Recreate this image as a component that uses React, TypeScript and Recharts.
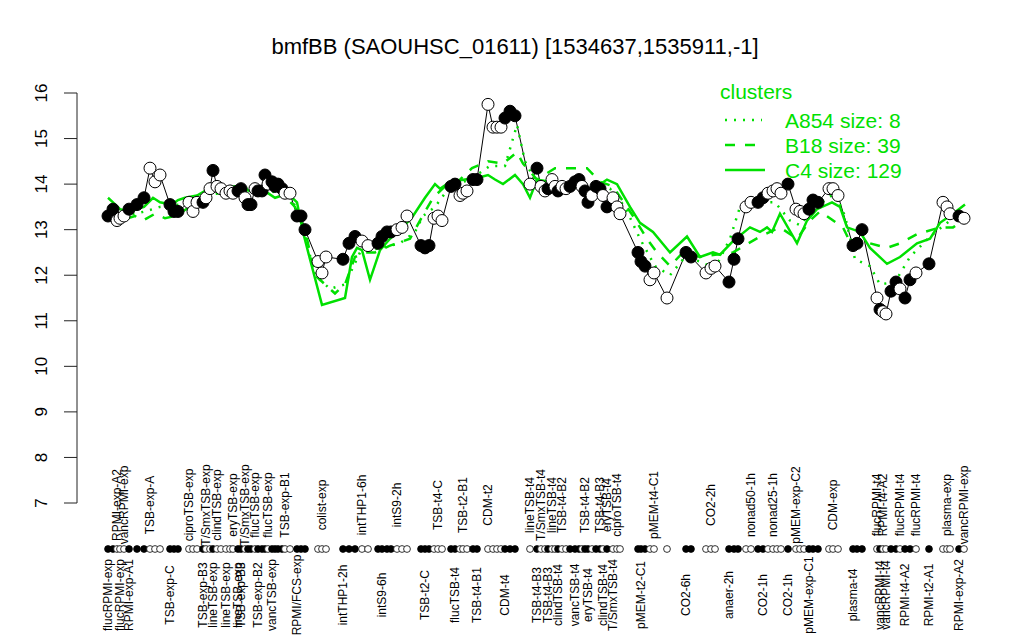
import { ComposedChart, Line, XAxis, YAxis } from "recharts";

const FONT = '"Liberation Sans", Arial, Helvetica, sans-serif';
const GREEN = "#00e000";

// condition position along the x axis (gaps separate experiment groups)
const conditionPos = [
  8, 13, 17, 20, 24, 29, 37, 44, 50, 55,
  60, 70, 74, 78, 89, 93, 97, 103, 106, 110,
  113, 117, 121, 126, 130, 133, 138, 141, 145, 148,
  151, 155, 158, 162, 165, 168, 172, 175, 178, 182,
  185, 190, 197, 201, 205, 218, 222, 226, 243, 249,
  255, 262, 268, 278, 282, 287, 291, 297, 302, 307,
  321, 325, 329, 334, 338, 342, 351, 355, 360, 363,
  367, 373, 377, 388, 393, 397, 401, 405, 410, 415,
  430, 437, 441, 445, 448, 452, 455, 458, 462, 466,
  470, 475, 479, 482, 485, 488, 492, 496, 500, 503,
  507, 513, 517, 520, 538, 541, 545, 550, 554, 567,
  586, 591, 606, 611, 615, 629, 634, 638, 646, 651,
  658, 663, 668, 673, 677, 681, 688, 696, 700, 704,
  709, 713, 718, 729, 733, 738, 753, 757, 762, 777,
  780, 783, 786, 791, 796, 800, 805, 810, 816, 829,
  843, 847, 850, 859, 864,
];

// log2 expression per condition
const expression = [
  13.3, 13.45, 13.2, 13.25, 13.3, 13.45, 13.55, 13.7, 14.35, 14.05,
  14.2, 13.55, 13.4, 13.4, 13.6, 13.4, 13.6, 13.6, 13.7, 13.9,
  14.3, 13.95, 13.9, 13.8, 13.85, 13.8, 13.85, 13.9, 13.7, 13.55,
  13.55, 13.9, 13.85, 13.85, 14.2, 14.0, 14.05, 13.95, 14.0, 13.9,
  13.8, 13.8, 13.3, 13.3, 13.0, 12.3, 12.05, 12.4, 12.35, 12.7,
  12.85, 12.75, 12.65, 12.7, 12.85, 12.95, 12.95, 13.0, 13.05, 13.3,
  12.65, 12.6, 12.65, 13.25, 13.3, 13.2, 13.95, 14.0, 13.75, 13.8,
  13.85, 14.1, 14.1, 15.75, 15.25, 15.25, 15.25, 15.45, 15.6, 15.5,
  14.0, 14.35, 13.95, 13.85, 13.9, 14.1, 13.95, 13.85, 13.95, 13.9,
  13.95, 14.05, 14.1, 13.95, 13.85, 13.6, 13.75, 13.95, 13.9, 13.75,
  13.5, 13.7, 13.5, 13.35, 12.5, 12.3, 12.2, 11.9, 12.05, 11.5,
  12.5, 12.4, 12.05, 12.15, 12.2, 11.85, 12.35, 12.8, 13.5, 13.6,
  13.6, 13.7, 13.8, 13.85, 13.9, 13.8, 14.0, 13.45, 13.4, 13.35,
  13.45, 13.65, 13.6, 13.9, 13.9, 13.75, 12.65, 12.7, 13.0, 11.5,
  11.25, 11.2, 11.15, 11.65, 11.85, 11.7, 11.5, 11.9, 12.05, 12.25,
  13.6, 13.5, 13.35, 13.3, 13.25,
];

// 1 = filled marker, 0 = open marker
const filled = [
  1, 1, 0, 0, 0, 1, 1, 1, 0, 0,
  0, 1, 1, 1, 0, 0, 0, 1, 0, 0,
  1, 0, 0, 0, 0, 0, 1, 1, 0, 1,
  1, 0, 1, 1, 1, 0, 1, 1, 1, 1,
  0, 0, 1, 1, 1, 0, 0, 0, 1, 1,
  1, 0, 0, 1, 1, 1, 1, 0, 0, 0,
  1, 1, 1, 0, 0, 0, 1, 1, 0, 0,
  0, 1, 1, 0, 0, 0, 0, 1, 1, 1,
  0, 1, 0, 0, 1, 0, 0, 1, 0, 0,
  1, 1, 1, 0, 1, 1, 0, 1, 1, 0,
  1, 0, 0, 0, 1, 1, 1, 0, 0, 0,
  1, 1, 0, 0, 0, 1, 1, 1, 0, 0,
  1, 1, 0, 0, 0, 0, 1, 0, 0, 0,
  1, 1, 1, 0, 0, 0, 1, 1, 1, 0,
  1, 0, 0, 1, 1, 0, 1, 1, 0, 1,
  0, 0, 0, 1, 0,
];

const topLabels: [number, string][] = [
  [17, "RPMI-exp-A2"], [24, "vancRPMI-exp"], [50, "TSB-exp-A"], [89, "ciproTSB-exp"],
  [106, "T/SmxTSB-exp"], [117, "clindTSB-exp"], [133, "eryTSB-exp"], [145, "T/SmxTSB-exp"],
  [155, "flucTSB-exp"], [168, "flucTSB-exp"], [185, "TSB-exp-B1"], [222, "colist-exp"],
  [262, "intTHP1-6h"], [297, "intS9-2h"], [338, "TSB-t4-C"], [363, "TSB-t2-B1"],
  [388, "CDM-t2"], [430, "lineTSB-t4"], [441, "T/SmxTSB-t4"], [452, "lineTSB-t4"],
  [462, "TSB-t4-B2"], [485, "TSB-t4-B2"], [500, "TSB-t4-B3"], [507, "eryTSB-t4"],
  [517, "ciproTSB-t4"], [554, "pMEM-t4-C1"], [611, "CO2-2h"], [651, "nonad50-1h"],
  [673, "nonad25-1h"], [696, "pMEM-exp-C2"], [733, "CDM-exp"], [777, "flucRPMI-t4"],
  [783, "RPMI-t4-A2"], [800, "flucRPMI-t4"], [816, "flucRPMI-t4"], [847, "plasma-exp"],
  [864, "vancRPMI-exp"],
];

const bottomLabels: [number, string][] = [
  [8, "flucRPMI-exp"], [20, "flucRPMI-exp"], [29, "RPMI-exp-A1"], [70, "TSB-exp-C"],
  [103, "TSB-exp-B3"], [113, "lineTSB-exp"], [126, "lineTSB-exp"], [138, "lineTSB-exp"],
  [141, "TSB-exp-B3"], [158, "TSB-exp-B2"], [172, "vancTSB-exp"], [197, "RPMI/FCS-exp"],
  [243, "intTHP1-2h"], [282, "intS9-6h"], [325, "TSB-t2-C"], [355, "flucTSB-t4"],
  [377, "TSB-t4-B1"], [405, "CDM-t4"], [437, "TSB-t4-B3"], [448, "TSB-t4-B3"],
  [458, "clindTSB-t4"], [475, "vancTSB-t4"], [488, "eryTSB-t4"], [503, "clindTSB-t4"],
  [513, "T/SmxTSB-t4"], [541, "pMEM-t2-C1"], [586, "CO2-6h"], [629, "anaer-2h"],
  [663, "CO2-1h"], [688, "CO2-1h"], [709, "pMEM-exp-C1"], [753, "plasma-t4"],
  [780, "vancRPMI-t4"], [786, "vancRPMI-t4"], [805, "RPMI-t4-A2"], [829, "RPMI-t2-A1"],
  [859, "RPMI-exp-A2"],
];

// cluster mean profiles
const a854Pos = [8, 25, 45, 60, 80, 100, 130, 160, 190, 200, 215, 230, 245, 260, 280, 300, 315, 323, 335, 350, 370, 390, 405, 417, 425, 437, 460, 490, 510, 525, 540, 555, 570, 585, 600, 615, 630, 640, 660, 675, 690, 700, 715, 735, 745, 755, 770, 780, 795, 810, 830, 850, 863];
const a854Val = [13.5, 13.3, 13.4, 13.5, 13.55, 13.75, 13.9, 13.9, 13.75, 13.3, 12.0, 11.7, 11.8, 12.5, 12.6, 12.7, 12.95, 13.3, 13.5, 13.95, 14.1, 14.4, 14.4, 15.3, 14.5, 14.0, 13.9, 13.95, 13.9, 13.5, 12.8, 12.2, 12.0, 12.4, 12.3, 12.15, 12.8, 13.5, 13.6, 13.6, 13.2, 13.1, 13.5, 13.8, 13.3, 12.35, 12.2, 11.8, 11.85, 12.4, 12.85, 13.2, 13.3];

const b18Pos = [8, 20, 35, 43, 55, 65, 75, 90, 105, 120, 140, 160, 180, 195, 205, 215, 235, 245, 255, 265, 275, 290, 310, 320, 333, 345, 360, 372, 388, 403, 417, 423, 437, 455, 470, 487, 500, 513, 533, 547, 557, 570, 583, 600, 615, 633, 660, 680, 697, 710, 720, 743, 753, 770, 787, 800, 817, 840, 853, 863];
const b18Val = [13.3, 13.2, 13.3, 13.2, 13.35, 13.25, 13.3, 13.5, 13.75, 13.8, 13.85, 13.9, 13.85, 13.5, 13.0, 12.0, 11.6, 11.8, 12.4, 12.5, 12.5, 12.65, 12.8, 13.2, 13.7, 13.95, 14.1, 14.35, 14.5, 14.45, 14.7, 14.45, 14.1, 14.35, 14.35, 14.35, 14.05, 13.95, 13.3, 12.8, 12.5, 12.2, 12.5, 12.4, 12.45, 12.5, 12.85, 13.05, 12.8, 13.2, 13.4, 13.05, 12.6, 12.7, 12.6, 12.7, 12.9, 13.05, 13.05, 13.2];

const c4Pos = [8, 13, 20, 30, 37, 44, 53, 60, 72, 78, 85, 97, 105, 112, 117, 122, 135, 150, 162, 168, 175, 182, 190, 197, 203, 210, 222, 245, 252, 257, 262, 270, 280, 290, 303, 313, 325, 335, 340, 350, 365, 380, 388, 395, 403, 415, 423, 430, 437, 450, 467, 480, 487, 497, 507, 517, 530, 540, 553, 570, 587, 600, 613, 620, 633, 650, 660, 667, 672, 680, 697, 707, 717, 732, 740, 747, 760, 770, 787, 800, 817, 830, 840, 853, 865];
const c4Val = [13.7, 13.6, 13.45, 13.4, 13.45, 13.5, 13.7, 13.6, 13.55, 13.65, 13.7, 13.75, 13.85, 13.9, 14.05, 13.9, 13.95, 13.85, 13.85, 13.8, 13.7, 13.75, 13.75, 13.6, 12.95, 12.35, 11.35, 11.5, 12.4, 12.6, 12.55, 11.9, 12.55, 12.8, 13.05, 13.3, 13.7, 14.0, 13.9, 14.05, 14.1, 14.15, 14.2, 14.1, 14.0, 14.2, 14.0, 13.7, 14.1, 14.05, 13.95, 14.0, 13.85, 13.95, 14.1, 14.0, 13.5, 13.15, 12.95, 12.5, 12.85, 12.4, 12.5, 12.45, 12.75, 13.05, 12.95, 13.05, 12.95, 13.35, 12.7, 13.2, 13.45, 13.6, 13.5, 13.05, 12.95, 12.6, 12.25, 12.4, 12.7, 12.8, 13.15, 13.35, 13.55];

const yTicks = [7, 8, 9, 10, 11, 12, 13, 14, 15, 16];

const rows = conditionPos.map((pos, i) => ({ pos, value: expression[i], filled: filled[i] === 1 }));
const a854Rows = a854Pos.map((pos, i) => ({ pos, v: a854Val[i] }));
const b18Rows = b18Pos.map((pos, i) => ({ pos, v: b18Val[i] }));
const c4Rows = c4Pos.map((pos, i) => ({ pos, v: c4Val[i] }));

const topMap = new Map(topLabels);
const bottomMap = new Map(bottomLabels);
const filledMap = new Map(rows.map((r) => [r.pos, r.filled]));

function ConditionTick(props: any) {
  const { x, payload } = props;
  const top = topMap.get(payload.value);
  const bottom = bottomMap.get(payload.value);
  const isFilled = filledMap.get(payload.value);
  return (
    <g>
      <circle cx={x} cy={549} r={3.4} fill={isFilled ? "#000" : "#fff"} stroke="#000" strokeWidth={0.8} />
      {top && (
        <text transform={`translate(${x}, 505) rotate(-90)`} textAnchor="middle" dominantBaseline="central" fontSize={12} fontFamily={FONT} fill="#000">
          {top}
        </text>
      )}
      {bottom && (
        <text transform={`translate(${x}, 595) rotate(-90)`} textAnchor="middle" dominantBaseline="central" fontSize={12} fontFamily={FONT} fill="#000">
          {bottom}
        </text>
      )}
    </g>
  );
}

function ValueTick(props: any) {
  const { y, payload } = props;
  return (
    <text transform={`translate(41, ${y}) rotate(-90)`} textAnchor="middle" dominantBaseline="central" fontSize={17} fontFamily={FONT} fill="#000">
      {payload.value}
    </text>
  );
}

function renderMarker(p: any) {
  return (
    <circle
      key={`m${p.index}`}
      cx={p.cx}
      cy={p.cy}
      r={6}
      fill={p.payload.filled ? "#000" : "#fff"}
      stroke="#000"
      strokeWidth={1}
    />
  );
}

export default function App() {
  return (
    <div style={{ position: "absolute", left: 0, top: 0, width: 1024, height: 640, background: "#fff", fontFamily: FONT }}>
      <div style={{ position: "absolute", left: 0, top: 32, width: 1030, textAlign: "center", fontSize: 22, lineHeight: "30px" }}>
        bmfBB (SAOUHSC_01611) [1534637,1535911,-1]
      </div>
      <ComposedChart width={1024} height={640} data={rows} margin={{ top: 93, right: 24, bottom: 0, left: 0 }}>
        <XAxis
          dataKey="pos"
          type="number"
          domain={[-23, 900]}
          ticks={conditionPos}
          interval={0}
          axisLine={false}
          tickLine={false}
          height={137}
          tick={<ConditionTick />}
        />
        <YAxis
          type="number"
          domain={[7, 16]}
          ticks={yTicks}
          width={77}
          stroke="#222"
          tickSize={13}
          tick={<ValueTick />}
        />
        <Line dataKey="value" stroke="#000" strokeWidth={1} dot={renderMarker} isAnimationActive={false} />
        <Line data={a854Rows} dataKey="v" stroke={GREEN} strokeWidth={2.5} strokeDasharray="2 7" dot={false} isAnimationActive={false} />
        <Line data={b18Rows} dataKey="v" stroke={GREEN} strokeWidth={2.5} strokeDasharray="10 10" dot={false} isAnimationActive={false} />
        <Line data={c4Rows} dataKey="v" stroke={GREEN} strokeWidth={2.5} dot={false} isAnimationActive={false} />
      </ComposedChart>
      <svg style={{ position: "absolute", left: 700, top: 70 }} width={300} height={120}>
        <text x={20} y={29} fontSize={21} fill={GREEN} fontFamily={FONT}>clusters</text>
        <line x1={25} y1={50} x2={62} y2={50} stroke={GREEN} strokeWidth={2.5} strokeDasharray="2 7" />
        <text x={85} y={57.5} fontSize={21} fill={GREEN} fontFamily={FONT}>A854 size: 8</text>
        <line x1={25} y1={75} x2={60} y2={75} stroke={GREEN} strokeWidth={2.5} strokeDasharray="10 10" />
        <text x={85} y={82.5} fontSize={21} fill={GREEN} fontFamily={FONT}>B18 size: 39</text>
        <line x1={25} y1={100} x2={65} y2={100} stroke={GREEN} strokeWidth={2.5} />
        <text x={85} y={107.5} fontSize={21} fill={GREEN} fontFamily={FONT}>C4 size: 129</text>
      </svg>
    </div>
  );
}
